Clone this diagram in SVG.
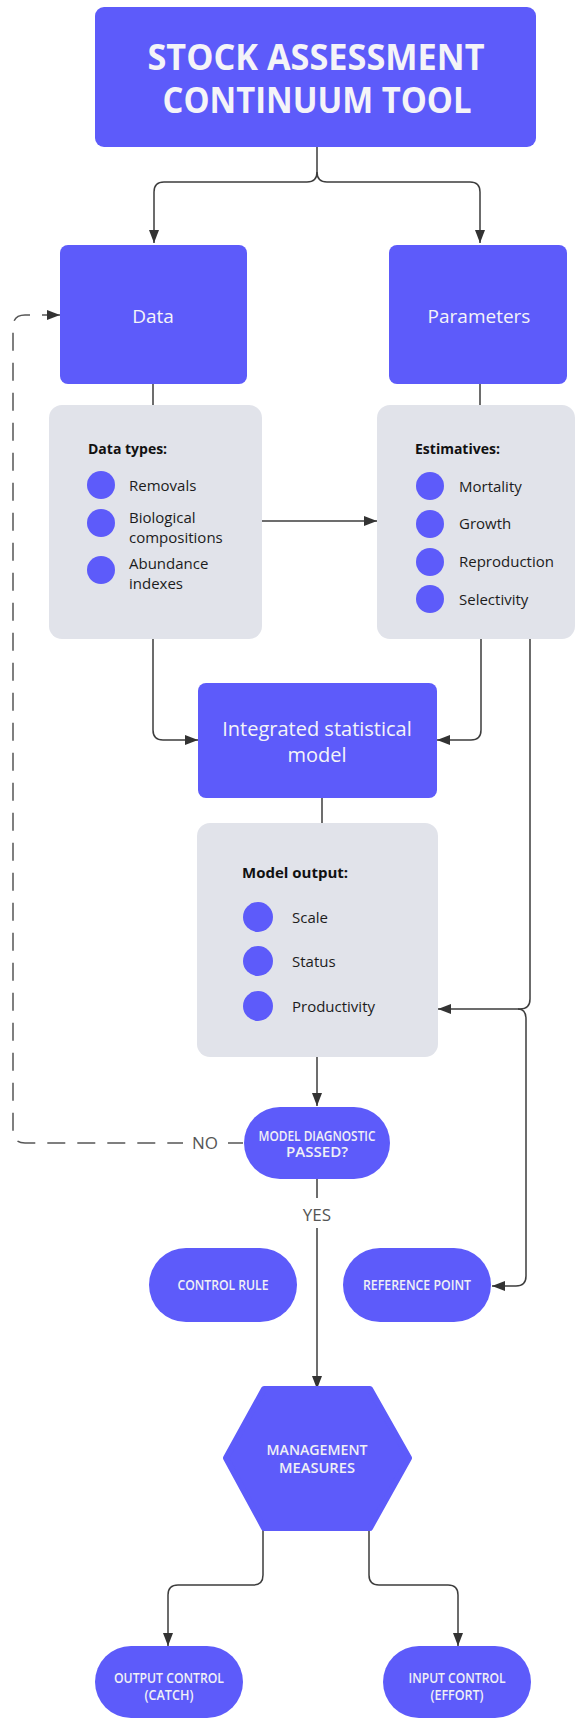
<svg xmlns="http://www.w3.org/2000/svg" width="580" height="1720" viewBox="0 0 580 1720">
<defs>
<style>
.pb{fill:#5d5bfa}
.gb{fill:#e1e3ea}
.dot{fill:#5d5bfa}
.w{fill:#f4f4f8;font-family:"Open Sans","Noto Sans",sans-serif;text-anchor:middle}
.k{fill:#1c1c1c;font-family:"Open Sans","Noto Sans",sans-serif;font-size:15px;font-weight:500}
.kb{fill:#111;font-family:"Open Sans","Noto Sans",sans-serif;font-size:14px;font-weight:700}
.cap{fill:#f0f0f6;font-family:"Open Sans","Noto Sans",sans-serif;font-size:14px;font-weight:600;text-anchor:middle}
.lab{fill:#555;font-family:"Open Sans","Noto Sans",sans-serif;font-size:17px;text-anchor:middle}
.ln{fill:none;stroke:#3d3d3d;stroke-width:1.5}
.dash{fill:none;stroke:#555;stroke-width:1.5;stroke-dasharray:18 12}
</style>
<marker id="ah" viewBox="0 0 13 10" refX="13" refY="5" markerWidth="13" markerHeight="10" markerUnits="userSpaceOnUse" orient="auto-start-reverse">
<path d="M0 0 L13 5 L0 10 z" fill="#333"/>
</marker>
</defs>
<rect width="580" height="1720" fill="#ffffff"/>

<g id="connectors">
<path class="ln" d="M317 147 V172 Q317 182 307 182 H164 Q154 182 154 192 V243" marker-end="url(#ah)"/>
<path class="ln" d="M317 172 Q317 182 327 182 H470 Q480 182 480 192 V243"  marker-end="url(#ah)"/>
<path class="ln" d="M153 384 V405"/>
<path class="ln" d="M480 384 V405"/>
<path class="ln" d="M262 521 H377" marker-end="url(#ah)"/>
<path class="ln" d="M153 639 V730 Q153 740 163 740 H198" marker-end="url(#ah)"/>
<path class="ln" d="M481 639 V730 Q481 740 471 740 H437" marker-end="url(#ah)"/>
<path class="ln" d="M530 639 V999 Q530 1009 520 1009 H438" marker-end="url(#ah)"/>
<path class="ln" d="M518 1009 Q526 1009 526 1019 V1276 Q526 1286 516 1286 H492" marker-end="url(#ah)"/>
<path class="ln" d="M322 798 V823"/>
<path class="ln" d="M317 1057 V1106" marker-end="url(#ah)"/>
<path class="ln" d="M317 1179 V1198"/>
<path class="ln" d="M317 1228 V1389" marker-end="url(#ah)"/>
<path class="ln" d="M263 1528 V1575 Q263 1585 253 1585 H178 Q168 1585 168 1595 V1646" marker-end="url(#ah)"/>
<path class="ln" d="M369 1528 V1575 Q369 1585 379 1585 H448 Q458 1585 458 1595 V1646" marker-end="url(#ah)"/>
<path class="ln" style="stroke:#555" d="M243 1143 H228"/>
<path class="dash" d="M60 315 H25 Q13 315 13 327 V1131 Q13 1143 25 1143 H183" marker-start="url(#ah)"/>
<text class="lab" x="205" y="1149">NO</text>
<text class="lab" x="317" y="1221">YES</text>
</g>

<g id="title">
<rect class="pb" x="95" y="7" width="441" height="140" rx="9"/>
<text class="w" x="316" y="70" font-size="35" font-weight="700" textLength="337" lengthAdjust="spacingAndGlyphs">STOCK ASSESSMENT</text>
<text class="w" x="317" y="113" font-size="35" font-weight="700" textLength="309" lengthAdjust="spacingAndGlyphs">CONTINUUM TOOL</text>
</g>

<g id="data">
<rect class="pb" x="60" y="245" width="187" height="139" rx="8"/>
<text class="w" x="153" y="323" font-size="19">Data</text>
</g>

<g id="parameters">
<rect class="pb" x="389" y="245" width="178" height="139" rx="8"/>
<text class="w" x="479" y="323" font-size="19">Parameters</text>
</g>

<g id="data-types">
<rect class="gb" x="49" y="405" width="213" height="234" rx="13"/>
<text class="kb" x="88" y="454">Data types:</text>
<circle class="dot" cx="101" cy="485" r="14"/>
<circle class="dot" cx="101" cy="523" r="14"/>
<circle class="dot" cx="101" cy="570" r="14"/>
<text class="k" x="129" y="491">Removals</text>
<text class="k" x="129" y="523">Biological</text>
<text class="k" x="129" y="543">compositions</text>
<text class="k" x="129" y="569">Abundance</text>
<text class="k" x="129" y="589">indexes</text>
</g>

<g id="estimatives">
<rect class="gb" x="377" y="405" width="198" height="234" rx="13"/>
<text class="kb" x="415" y="454">Estimatives:</text>
<circle class="dot" cx="430" cy="486" r="14"/>
<circle class="dot" cx="430" cy="524" r="14"/>
<circle class="dot" cx="430" cy="562" r="14"/>
<circle class="dot" cx="430" cy="599" r="14"/>
<text class="k" x="459" y="492">Mortality</text>
<text class="k" x="459" y="529">Growth</text>
<text class="k" x="459" y="567">Reproduction</text>
<text class="k" x="459" y="605">Selectivity</text>
</g>

<g id="integrated-model">
<rect class="pb" x="198" y="683" width="239" height="115" rx="8"/>
<text class="w" x="317" y="736" font-size="20">Integrated statistical</text>
<text class="w" x="317" y="762" font-size="20">model</text>
</g>

<g id="model-output">
<rect class="gb" x="197" y="823" width="241" height="234" rx="13"/>
<text class="kb" x="242" y="878" style="font-size:15px">Model output:</text>
<circle class="dot" cx="258" cy="917" r="15"/>
<circle class="dot" cx="258" cy="961" r="15"/>
<circle class="dot" cx="258" cy="1006" r="15"/>
<text class="k" x="292" y="923">Scale</text>
<text class="k" x="292" y="967">Status</text>
<text class="k" x="292" y="1012">Productivity</text>
</g>

<g id="diagnostic">
<rect class="pb" x="244" y="1107" width="146" height="72" rx="36"/>
<text class="cap" x="317" y="1141" textLength="117" lengthAdjust="spacingAndGlyphs">MODEL DIAGNOSTIC</text>
<text class="cap" x="317" y="1157" textLength="62" lengthAdjust="spacingAndGlyphs">PASSED?</text>
</g>

<g id="control-rule">
<rect class="pb" x="149" y="1248" width="148" height="74" rx="37"/>
<text class="cap" x="223" y="1290" textLength="91" lengthAdjust="spacingAndGlyphs">CONTROL RULE</text>
</g>

<g id="reference-point">
<rect class="pb" x="343" y="1248" width="148" height="74" rx="37"/>
<text class="cap" x="417" y="1290" textLength="108" lengthAdjust="spacingAndGlyphs">REFERENCE POINT</text>
</g>

<g id="management">
<polygon class="pb" points="264,1389 370,1389 409,1458 370,1528 264,1528 226,1458" stroke="#5d5bfa" stroke-width="6" stroke-linejoin="round"/>
<text class="cap" x="317" y="1455" textLength="101" lengthAdjust="spacingAndGlyphs">MANAGEMENT</text>
<text class="cap" x="317" y="1473" textLength="76" lengthAdjust="spacingAndGlyphs">MEASURES</text>
</g>

<g id="output-control">
<rect class="pb" x="95" y="1646" width="148" height="72" rx="36"/>
<text class="cap" x="169" y="1683" textLength="110" lengthAdjust="spacingAndGlyphs">OUTPUT CONTROL</text>
<text class="cap" x="169" y="1700" textLength="49" lengthAdjust="spacingAndGlyphs">(CATCH)</text>
</g>

<g id="input-control">
<rect class="pb" x="383" y="1646" width="148" height="72" rx="36"/>
<text class="cap" x="457" y="1683" textLength="97" lengthAdjust="spacingAndGlyphs">INPUT CONTROL</text>
<text class="cap" x="457" y="1700" textLength="53" lengthAdjust="spacingAndGlyphs">(EFFORT)</text>
</g>
</svg>
